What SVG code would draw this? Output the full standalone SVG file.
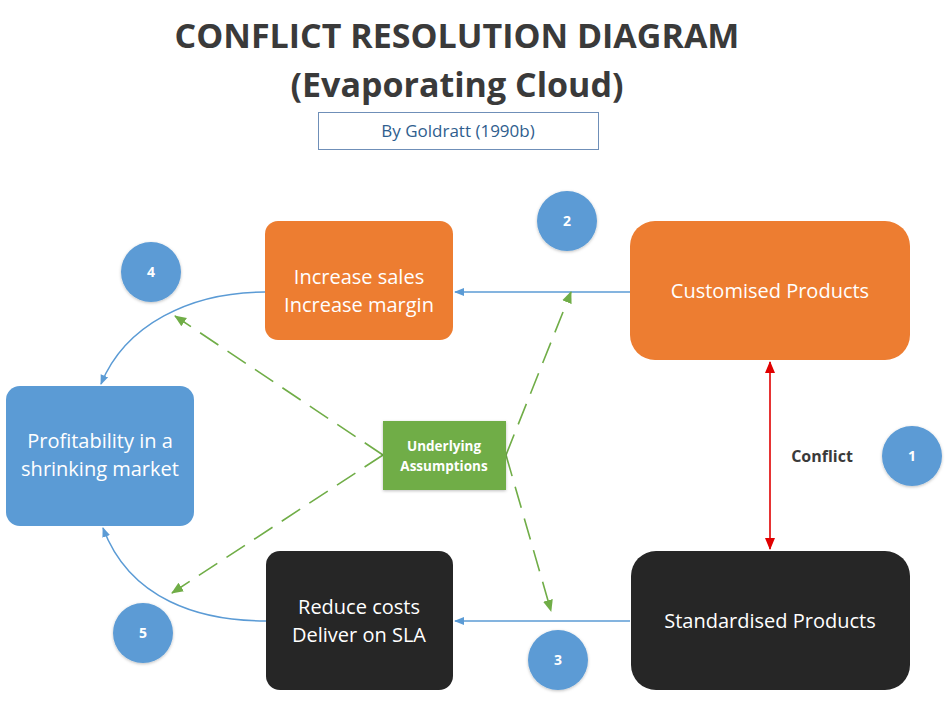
<svg xmlns="http://www.w3.org/2000/svg" width="950" height="701" viewBox="0 0 950 701">
<style>
text{font-family:"Open Sans","Liberation Sans",sans-serif;text-anchor:middle}
.t{font-weight:bold;fill:#3a3a3a;font-size:34px}
.w{fill:#fff;font-size:20px}
.num{fill:#fff;font-size:14px;font-weight:bold}
.circ{fill:#5b9bd5;filter:url(#sh)}
.blue{stroke:#5b9bd5;stroke-width:1.5;fill:none;marker-end:url(#ab)}
.green{stroke:#70ad47;stroke-width:1.6;fill:none;stroke-dasharray:22 11;marker-end:url(#ag)}
</style>
<defs>
<filter id="sh" x="-20%" y="-20%" width="140%" height="140%"><feDropShadow dx="0" dy="1" stdDeviation="1.5" flood-opacity="0.25"/></filter>
<marker id="ab" markerWidth="10" markerHeight="10" refX="9" refY="5" orient="auto" markerUnits="userSpaceOnUse"><path d="M0,1 L10,5 L0,9 Z" fill="#5b9bd5"/></marker>
<marker id="ag" markerWidth="12" markerHeight="12" refX="11" refY="6" orient="auto" markerUnits="userSpaceOnUse"><path d="M0,1 L12,6 L0,11 Z" fill="#70ad47"/></marker>
<marker id="ar" markerWidth="12" markerHeight="12" refX="11" refY="6" orient="auto-start-reverse" markerUnits="userSpaceOnUse"><path d="M0,1 L12,6 L0,11 Z" fill="#e00000"/></marker>
</defs>
<rect width="950" height="701" fill="#fff"/>
<g id="title">
<text class="t" x="457" y="48">CONFLICT RESOLUTION DIAGRAM</text>
<text class="t" x="457" y="97">(Evaporating Cloud)</text>
</g>
<g id="subtitle">
<rect x="318.5" y="112.5" width="280" height="37" fill="#fff" stroke="#6f8fb8" stroke-width="1"/>
<text x="458" y="137" style="fill:#2f5e8e;font-size:17px">By Goldratt (1990b)</text>
</g>
<g id="connectors">
<line class="blue" x1="630" y1="292" x2="455" y2="292"/>
<line class="blue" x1="630" y1="621" x2="455" y2="621"/>
<path class="blue" d="M265,292 C190,292 125,325 101,384"/>
<path class="blue" d="M266,621 C200,621 130,600 103,528"/>
<line x1="770" y1="362" x2="770" y2="549" stroke="#e00000" stroke-width="1.6" marker-start="url(#ar)" marker-end="url(#ar)"/>
<line class="green" x1="383" y1="455" x2="175" y2="316"/>
<line class="green" x1="383" y1="455" x2="172" y2="593"/>
<line class="green" x1="506" y1="455" x2="571" y2="292"/>
<line class="green" x1="506" y1="455" x2="551" y2="611"/>
<text x="822" y="462" style="font-weight:bold;fill:#3a3a3a;font-size:16px">Conflict</text>
</g>
<g id="increase">
<rect x="265" y="221" width="188" height="119" rx="13" fill="#ed7d31"/>
<text class="w" x="359" y="284">Increase sales</text>
<text class="w" x="359" y="312">Increase margin</text>
</g>
<g id="customised">
<rect x="630" y="221" width="280" height="139" rx="25" fill="#ed7d31"/>
<text class="w" x="770" y="298">Customised Products</text>
</g>
<g id="profitability">
<rect x="6" y="386" width="188" height="140" rx="14" fill="#5b9bd5"/>
<text class="w" x="100" y="448">Profitability in a</text>
<text class="w" x="100" y="476">shrinking market</text>
</g>
<g id="reduce">
<rect x="266" y="551" width="187" height="139" rx="14" fill="#262626"/>
<text class="w" x="359" y="614">Reduce costs</text>
<text class="w" x="359" y="642">Deliver on SLA</text>
</g>
<g id="standardised">
<rect x="631" y="551" width="279" height="139" rx="25" fill="#262626"/>
<text class="w" x="770" y="628">Standardised Products</text>
</g>
<g id="assumptions">
<rect x="383" y="421" width="123" height="69" fill="#70ad47" filter="url(#sh)"/>
<text x="444" y="451" style="fill:#fff;font-weight:bold;font-size:13.5px">Underlying</text>
<text x="444" y="471" style="fill:#fff;font-weight:bold;font-size:13.5px">Assumptions</text>
</g>
<g id="n1"><circle class="circ" cx="912" cy="456" r="30"/><text class="num" x="912" y="461">1</text></g>
<g id="n2"><circle class="circ" cx="567" cy="221" r="30"/><text class="num" x="567" y="226">2</text></g>
<g id="n3"><circle class="circ" cx="558" cy="660" r="30"/><text class="num" x="558" y="665">3</text></g>
<g id="n4"><circle class="circ" cx="151" cy="272" r="30"/><text class="num" x="151" y="277">4</text></g>
<g id="n5"><circle class="circ" cx="143" cy="633" r="30"/><text class="num" x="143" y="638">5</text></g>
</svg>
